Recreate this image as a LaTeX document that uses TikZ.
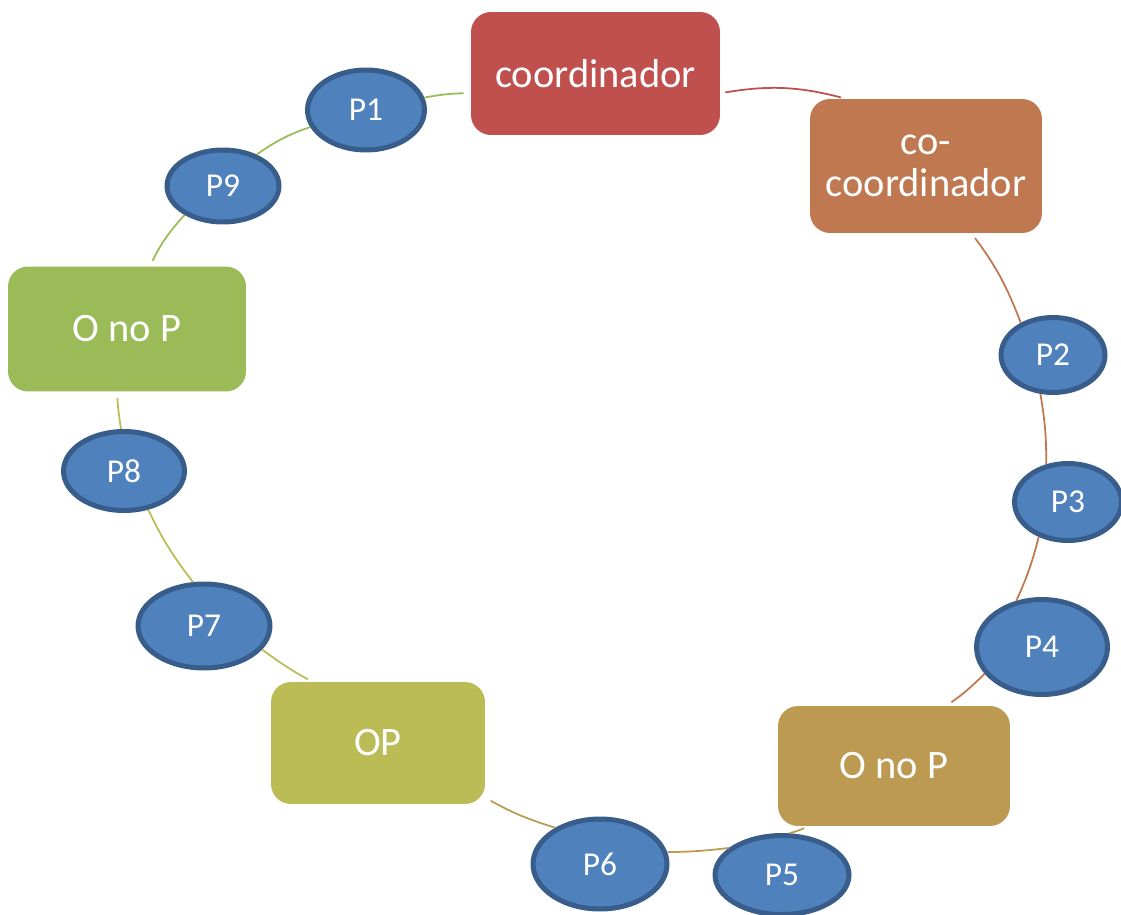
\documentclass[tikz,border=0pt]{standalone}
\usepackage{fontspec}
\setmainfont{Carlito}
\usetikzlibrary{shapes.geometric}
\definecolor{cred}{HTML}{C0504D}
\definecolor{corange}{HTML}{BF7850}
\definecolor{cgold}{HTML}{BD9A52}
\definecolor{colive}{HTML}{BBBC56}
\definecolor{cgreen}{HTML}{9BBB59}
\definecolor{pblue}{HTML}{4F81BD}
\definecolor{pborder}{HTML}{385D8A}

\begin{document}
\begin{tikzpicture}[x=0.02cm,y=-0.02cm,
  box/.style={rounded corners=0.4cm,text=white,align=center,inner sep=0pt,
    font=\fontsize{23}{24}\selectfont},
  pnode/.style={ellipse,draw=pborder,fill=pblue,line width=0.1cm,text=white,
    inner sep=0pt,font=\fontsize{19}{22}\selectfont},
  link/.style={line width=1pt}]
\useasboundingbox (0,0) rectangle (1121,915);

\node [box,fill=cred,minimum width=4.98cm,minimum height=2.46cm] (coord) at (595.5,73.5) {coordinador};
\node [box,fill=corange,minimum width=4.64cm,minimum height=2.68cm] (cocoord) at (926,166) {co-\\coordinador};
\node [box,fill=cgold,minimum width=4.64cm,minimum height=2.4cm] (onop2) at (894,766) {O no P};
\node [box,fill=colive,minimum width=4.28cm,minimum height=2.44cm] (op) at (378,743) {OP};
\node [box,fill=cgreen,minimum width=4.76cm,minimum height=2.5cm] (onop1) at (127,329) {O no P};

\node [pnode,minimum width=2.34cm,minimum height=1.6cm] (p1) at (366,110) {P1};
\node [pnode,minimum width=2.08cm,minimum height=1.5cm] (p2) at (1053,355) {P2};
\node [pnode,minimum width=2.14cm,minimum height=1.54cm] (p3) at (1068,502) {P3};
\node [pnode,minimum width=2.62cm,minimum height=1.9cm] (p4) at (1042,647) {P4};
\node [pnode,minimum width=2.68cm,minimum height=1.58cm] (p5) at (782,875) {P5};
\node [pnode,minimum width=2.68cm,minimum height=1.8cm] (p6) at (600,864) {P6};
\node [pnode,minimum width=2.64cm,minimum height=1.68cm] (p7) at (204,626) {P7};
\node [pnode,minimum width=2.42cm,minimum height=1.58cm] (p8) at (124,471) {P8};
\node [pnode,minimum width=2.24cm,minimum height=1.44cm] (p9) at (223,186) {P9};

\draw [link,cgreen,shorten <=0.12cm] (onop1.70) to[bend left=8] (p9.217);
\draw [link,cgreen] (p9.43) to[bend left=8] (p1.197);
\draw [link,cgreen,shorten >=0.14cm] (p1.12) to[bend left=5] (coord.189);
\draw [link,cred,shorten <=0.1cm,shorten >=0.1cm] (coord.-9) to[bend left=12] (cocoord.140);
\draw [link,corange,shorten <=0.12cm] (cocoord.-56) to[bend left=8] (p2.135);
\draw [link,corange] (p2.252) to[bend left=5] (p3.120);
\draw [link,corange] (p3.230) to[bend left=5] (p4.119);
\draw [link,corange,shorten >=0.12cm] (p4.205) to[bend left=5] (onop2.49);
\draw [link,cgold,shorten <=0.08cm] (onop2.215) to[bend left=5] (p5.80);
\draw [link,cgold] (p5.153) to[bend left=3] (p6.10);
\draw [link,cgold,shorten >=0.12cm] (p6.141) to[bend left=6] (op.-27);
\draw [link,colive,shorten <=0.1cm] (op.137) to[bend left=4] (p7.-22);
\draw [link,colive] (p7.104) to[bend left=6] (p8.-58);
\draw [link,colive,shorten >=0.12cm] (p8.94) to[bend left=3] (onop1.261);
\end{tikzpicture}
\end{document}
